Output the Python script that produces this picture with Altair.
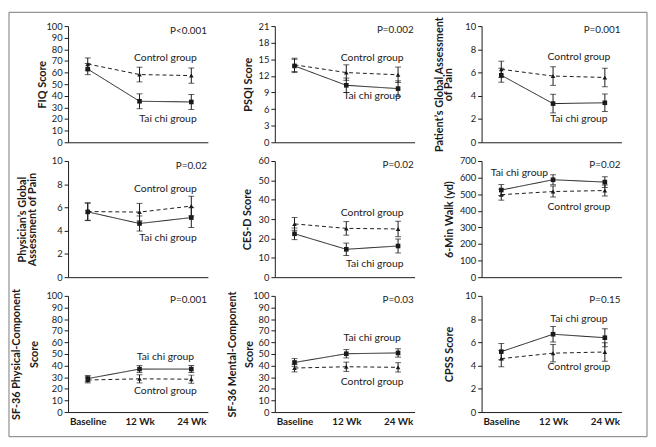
import altair as alt
import pandas as pd

# ---------------- data ----------------
week_values = [0, 1, 2]
week_labels = ["Baseline", "12 Wk", "24 Wk"]
groups = ["Tai chi group", "Control group"]

titles = [
    "FIQ Score",
    "PSQI Score",
    ["Patient\u2019s Global Assessment", "of Pain"],
    ["Physician\u2019s Global", "Assessment of Pain"],
    "CES-D Score",
    "6-Min Walk (yd)",
    ["SF-36 Physical-Component", "Score"],
    ["SF-36 Mental-Component", "Score"],
    "CPSS Score",
]
y_max = [100, 21, 10, 10, 60, 700, 100, 100, 10]
y_step = [10, 3, 2, 2, 10, 100, 10, 10, 2]
p_values = ["P<0.001", "P=0.002", "P=0.001", "P=0.02", "P=0.02", "P=0.02",
            "P=0.001", "P=0.03", "P=0.15"]

taichi_mean = [
    [63.0, 35.3, 34.7],
    [13.8, 10.3, 9.7],
    [5.77, 3.33, 3.40],
    [5.62, 4.62, 5.13],
    [22.4, 14.4, 16.1],
    [525, 587, 573],
    [28.8, 37.0, 37.0],
    [42.7, 50.2, 50.9],
    [5.20, 6.70, 6.40],
]
taichi_err = [
    [4.8, 6.4, 6.4],
    [1.2, 1.3, 1.4],
    [0.60, 0.80, 0.75],
    [0.75, 0.65, 0.85],
    [3.0, 3.2, 3.6],
    [33, 30, 32],
    [2.7, 3.0, 3.0],
    [3.3, 3.6, 3.6],
    [0.70, 0.67, 0.77],
]
control_mean = [
    [67.4, 58.3, 57.4],
    [14.0, 12.6, 12.2],
    [6.28, 5.70, 5.58],
    [5.65, 5.60, 6.12],
    [27.5, 25.2, 24.9],
    [497, 516, 522],
    [27.6, 28.6, 28.3],
    [37.9, 39.0, 38.5],
    [4.60, 5.07, 5.17],
]
control_err = [
    [5.2, 6.3, 6.5],
    [1.2, 1.4, 1.4],
    [0.70, 0.80, 0.80],
    [0.75, 0.75, 0.85],
    [3.3, 3.5, 4.0],
    [33, 33, 33],
    [2.5, 3.5, 3.5],
    [3.3, 4.0, 4.0],
    [0.70, 0.75, 0.80],
]

# annotation anchors in data coordinates (x on week scale, y on value scale)
p_y = [96, 20.2, 9.7, 9.6, 57.8, 675, 96.3, 96.3, 9.6]
ctrl_label = [(1.5, 72.8), (1.5, 15.3), (1.5, 7.3), (1.5, 7.6), (1.5, 33.2),
              (1.5, 423), (1.5, 18.0), (1.5, 25.6), (1.5, 3.9)]
tai_label = [(1.55, 19.6), (1.5, 8.3), (1.5, 2.0), (1.55, 3.4), (1.55, 6.8),
             (0.35, 625), (1.5, 47.3), (1.5, 63.5), (1.5, 8.0)]

# ---------------- styling ----------------
INK = "#1a1a1a"
FONT = "Lato"
W, H = 142, 118
X_DOMAIN = [-0.38, 2.32]
TITLE_OFFSET = [-26, -27, -43, -46, -28, -33, -52, -43, -33]
TITLE_LINE = [12, 12, 9.5, 10, 12, 12, 18, 17, 12]
label_expr = "[" + ",".join("'%s'" % s for s in week_labels) + "][datum.value]"


def panel(i, show_x, frame=False):
    rows = []
    for g, means, errs in ((groups[0], taichi_mean[i], taichi_err[i]),
                           (groups[1], control_mean[i], control_err[i])):
        for w, m, e in zip(week_values, means, errs):
            rows.append({"week": w, "group": g, "value": m,
                         "lo": m - e, "hi": m + e})
    df = pd.DataFrame(rows)

    x_scale = alt.Scale(domain=X_DOMAIN, nice=False, zero=False)
    x_axis = alt.Axis(values=week_values, labelExpr=label_expr,
                      ticks=False, labels=show_x, title=None, grid=False,
                      labelFontWeight="bold", labelFontSize=10,
                      labelPadding=5, labelOverlap=False)
    y_scale = alt.Scale(domain=[0, y_max[i]], nice=False, zero=True)
    y_axis = alt.Axis(values=list(range(0, y_max[i] + 1, y_step[i])),
                      title=titles[i], grid=False, tickSize=4,
                      titleX=TITLE_OFFSET[i], titleBaseline="middle",
                      titleLineHeight=TITLE_LINE[i], labelOverlap=False,
                      labelFlush=False, labelPadding=2)

    def X(field="week"):
        return alt.X(field + ":Q", scale=x_scale, axis=x_axis)

    def Y(field):
        return alt.Y(field + ":Q", scale=y_scale, axis=y_axis)

    base = alt.Chart(df)
    lines = base.mark_line(strokeWidth=1, color=INK).encode(
        x=X(), y=Y("value"),
        strokeDash=alt.StrokeDash("group:N",
                                  scale=alt.Scale(domain=groups,
                                                  range=[[1, 0], [4, 3]]),
                                  legend=None),
        detail="group:N",
    )
    rules = base.mark_rule(strokeWidth=1, color=INK).encode(
        x=X(), y=Y("lo"), y2="hi:Q")
    cap_lo = base.mark_tick(orient="horizontal", size=6, thickness=1,
                            color=INK).encode(x=X(), y=Y("lo"))
    cap_hi = base.mark_tick(orient="horizontal", size=6, thickness=1,
                            color=INK).encode(x=X(), y=Y("hi"))
    pts = base.mark_point(filled=True, opacity=1, color=INK, size=22).encode(
        x=X(), y=Y("value"),
        shape=alt.Shape("group:N",
                        scale=alt.Scale(domain=groups,
                                        range=["square", "triangle-up"]),
                        legend=None),
    )

    pdf = pd.DataFrame({"week": [X_DOMAIN[1] - 0.02], "value": [p_y[i]],
                        "text": [p_values[i]]})
    ptxt = alt.Chart(pdf).mark_text(align="right", baseline="middle",
                                    font=FONT, fontSize=10, color=INK).encode(
        x=X(), y=Y("value"), text="text:N")

    gdf = pd.DataFrame({"week": [ctrl_label[i][0], tai_label[i][0]],
                        "value": [ctrl_label[i][1], tai_label[i][1]],
                        "text": [groups[1], groups[0]]})
    gtxt = alt.Chart(gdf).mark_text(align="center", baseline="middle",
                                    font=FONT, fontSize=10.5, color=INK).encode(
        x=X(), y=Y("value"), text="text:N")

    layers = [lines, rules, cap_lo, cap_hi, pts, ptxt, gtxt]
    if frame:
        fr = alt.Chart(pd.DataFrame({"a": [0]})).mark_rect(
            fill=None, stroke="#7a7a7a", strokeWidth=1).encode(
            x=alt.value(-60), x2=alt.value(588),
            y=alt.value(-14), y2=alt.value(417))
        layers = [fr] + layers
    return alt.layer(*layers).properties(width=W, height=H)


panels = [panel(i, show_x=(i >= 6), frame=(i == 0)) for i in range(9)]

chart = alt.concat(*panels, columns=3, spacing={"row": 19, "column": 68},
                   bounds="flush").properties(padding=0).configure_view(
    stroke=None
).configure_axis(
    domainColor=INK, tickColor=INK, labelColor=INK, titleColor=INK,
    labelFont=FONT, titleFont=FONT, labelFontSize=9.5, titleFontSize=11,
    titleFontWeight="bold",
)

chart.save("out.html", embed_options={"renderer": "svg", "actions": False})
